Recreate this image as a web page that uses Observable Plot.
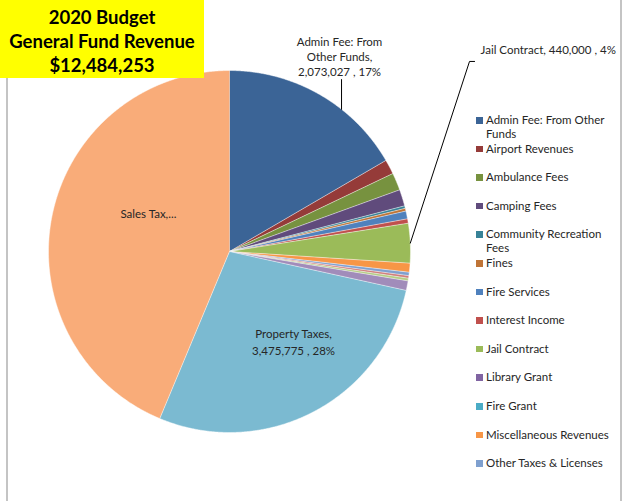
<!DOCTYPE html>
<html>
<head>
<meta charset="utf-8">
<script src="https://cdn.jsdelivr.net/npm/d3@7"></script>
<script src="https://cdn.jsdelivr.net/npm/@observablehq/plot@0.6"></script>
<style>
  html, body { margin: 0; padding: 0; background: #fff; }
  #wrap { position: relative; width: 626px; height: 501px; overflow: hidden; font-family: Lato, "Open Sans", sans-serif; color: #262626; }
  #title { position: absolute; left: 0; top: 0; width: 204px; height: 78px; background: #FFFF00; text-align: center;
           font-weight: bold; font-size: 18.5px; line-height: 24px; padding-top: 5px; box-sizing: border-box; color: #000; z-index: 2; }
  .border { position: absolute; top: 0; width: 1.5px; height: 501px; background: #C4C4C4; }
  .leg { position: absolute; left: 486px; font-size: 11.5px; line-height: 14px; width: 128px; }
  .sw { position: absolute; left: -10px; top: 4px; width: 6.5px; height: 6.5px; }
  #chart { position: absolute; left: 0; top: 0; }
</style>
</head>
<body>
<div id="wrap">
  <div class="border" style="left:6px"></div>
  <div class="border" style="left:620px"></div>
  <div id="chart"></div>
</div>
<script>
// ---- data ----
const categories = [
  "Admin Fee: From Other Funds", "Airport Revenues", "Ambulance Fees", "Camping Fees",
  "Community Recreation Fees", "Fines", "Fire Services", "Interest Income", "Jail Contract",
  "Library Grant", "Fire Grant", "Miscellaneous Revenues", "Other Taxes & Licenses",
  "Park Revenues", "Permits & Fees", "Planning & Zoning Fees", "Property Taxes", "Sales Tax"
];
const values = [
  2073027, 163000, 194000, 184000,
  28000, 31000, 87000, 49000, 440000,
  0, 0, 100000, 38000,
  28000, 30000, 107000, 3475775, 5456451
];
const colors = [
  "#3B6496", "#953B39", "#77923F", "#604B7C",
  "#378297", "#BF7436", "#4F81BD", "#C0504D", "#9BBB59",
  "#8064A2", "#4BACC6", "#F79646", "#7FA0CF",
  "#D07E7C", "#B5CD86", "#A18CBA", "#7BBAD1", "#F9AC79"
];
const titleLines = ["2020 Budget", "General Fund Revenue", "$12,484,253"];
const legendShown = 13;   // the legend is cut off after this many entries

// ---- helpers ----
const total = d3.sum(values);
const fmt = d3.format(",");
const pct = v => Math.round(100 * v / total) + "%";
const pie = d3.pie().sort(null).value(d => d.value)(categories.map((name, i) => ({name, value: values[i]})));

// polygon points for each slice (data units, unit circle, clockwise from 12 o'clock)
const pts = [];
pie.forEach(p => {
  if (p.data.value <= 0) return;
  const name = p.data.name;
  pts.push({name, x: 0, y: 0});
  const n = Math.max(2, Math.ceil((p.endAngle - p.startAngle) / 0.005));
  for (let k = 0; k <= n; k++) {
    const a = p.startAngle + (p.endAngle - p.startAngle) * k / n;
    pts.push({name, x: Math.sin(a), y: Math.cos(a)});
  }
});
const slice = name => pie.find(p => p.data.name === name);
const mid = p => (p.startAngle + p.endAngle) / 2;

// ---- annotations ----
const adm = slice("Admin Fee: From Other Funds");
const jail = slice("Jail Contract");
const prop = slice("Property Taxes");

const admX = 0.608;
const midLabels = [
  {x: admX, y: 1.155, t: "Admin Fee: From"},
  {x: admX, y: 1.072, t: "Other Funds,"},
  {x: admX, y: 0.989, t: fmt(adm.data.value) + " , " + pct(adm.data.value)},
  {x: 0.354, y: -0.459, t: "Property Taxes,"},
  {x: 0.354, y: -0.552, t: fmt(prop.data.value) + " , " + pct(prop.data.value)},
  {x: -0.448, y: 0.204, t: "Sales Tax,..."}
];
const startLabels = [
  {x: 1.387, y: 1.110, t: "Jail Contract, " + fmt(jail.data.value) + " , " + pct(jail.data.value)}
];
const admLeader = [
  {x: 0.619, y: 0.950},
  {x: 0.619, y: Math.sqrt(1 - 0.619 * 0.619)}
];
const jailLeader = [
  {x: 1.354, y: 1.050},
  {x: 1.326, y: 1.050},
  {x: Math.sin(mid(jail)), y: Math.cos(mid(jail))}
];

const chart = Plot.plot({
  width: 626,
  height: 501,
  marginLeft: 48,
  marginRight: 216,
  marginTop: 70,
  marginBottom: 69,
  x: {domain: [-1, 1], axis: null},
  y: {domain: [-1, 1], axis: null},
  color: {domain: categories, range: colors},
  style: {background: "transparent", overflow: "visible", fontFamily: "Lato, 'Open Sans', sans-serif"},
  marks: [
    Plot.line(pts, {x: "x", y: "y", z: "name", fill: "name", stroke: "white", strokeWidth: 0.6, strokeOpacity: 0.8, curve: "linear"}),
    Plot.line(admLeader, {x: "x", y: "y", stroke: "#000", strokeWidth: 1}),
    Plot.line(jailLeader, {x: "x", y: "y", stroke: "#000", strokeWidth: 1}),
    Plot.text(midLabels, {x: "x", y: "y", text: "t", textAnchor: "middle", fontSize: 11.5, fill: "#262626"}),
    Plot.text(startLabels, {x: "x", y: "y", text: "t", textAnchor: "start", fontSize: 11.5, fill: "#262626"})
  ]
});
document.getElementById("chart").appendChild(chart);

// ---- title ----
const wrap = document.getElementById("wrap");
const title = document.createElement("div");
title.id = "title";
title.innerHTML = titleLines.map(s => `<div>${s}</div>`).join("");
wrap.appendChild(title);

// ---- legend (cut off after legendShown entries, as in the reference) ----
const legTop = 113, legStep = 28.6;
for (let i = 0; i < legendShown; i++) {
  const row = document.createElement("div");
  row.className = "leg";
  row.style.top = (legTop + i * legStep) + "px";
  const sw = document.createElement("div");
  sw.className = "sw";
  sw.style.background = colors[i];
  row.appendChild(sw);
  row.appendChild(document.createTextNode(categories[i]));
  wrap.appendChild(row);
}
</script>
</body>
</html>
